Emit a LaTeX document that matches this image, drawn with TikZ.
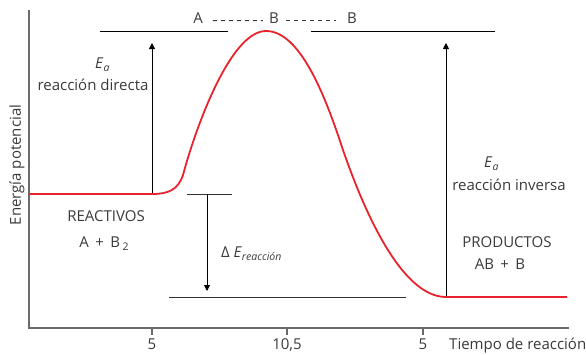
\documentclass[tikz,border=0pt]{standalone}
\usepackage{fontspec}
\setmainfont{Open Sans}
\usetikzlibrary{arrows.meta}

\definecolor{curvered}{HTML}{E8232B}
\definecolor{axisgray}{HTML}{6A6A6A}
\definecolor{textgray}{HTML}{3A3A3A}

\tikzset{
  lbl/.style={text=textgray, inner sep=0pt, font=\fontsize{15}{18}\selectfont},
  axisline/.style={axisgray, line width=1.8pt},
  level/.style={black, line width=1pt},
  dlevel/.style={black!80, line width=1pt},
  curve/.style={curvered, line width=1.8pt},
  eaarrow/.style={black, line width=0.9pt, -{Triangle[width=6pt,length=6pt]}},
  dashgray/.style={textgray, line width=1pt, dash pattern=on 4pt off 4pt}
}
\newcommand{\lowsub}[1]{\raisebox{-0.45ex}{\fontsize{10.5}{12}\selectfont #1}}

\begin{document}
\begin{tikzpicture}[x=1pt,y=-1pt]
\useasboundingbox (0,0) rectangle (586,354);

% Axes
\coordinate (origin) at (29,328);
\coordinate (ytop) at (29,10);
\coordinate (xend) at (569,328);
\draw[axisline] (ytop) -- (origin) -- (xend);
\foreach \x/\t in {152/5, 287/{10,5}, 423/5} {
  \draw[axisline] (\x,328) -- (\x,335);
  \node[lbl, anchor=base] (tick\x) at (\x,349) {\t};
}
\node[lbl, anchor=base west] (xlabel) at (449,349) {Tiempo de reacción};
\node[lbl, rotate=90] (ylabel) at (17,165) {Energía potencial};

% Energy levels
\coordinate (reacLevel) at (152,194);
\coordinate (prodLevel) at (446,297);
\draw[level] (100,31) -- (228,31);
\draw[level] (311,31) -- (495,31);

% Activation arrows
\coordinate (reacTop) at (152,43);
\coordinate (prodTop) at (446,43);
\draw[eaarrow] (reacLevel) -- (reacTop);
\draw[eaarrow] (prodLevel) -- (prodTop);

% Reaction energy
\coordinate (deltaTop) at (207,194);
\coordinate (deltaBot) at (207,291);
\draw[dlevel] (187,194) -- (232,194);
\draw[dlevel] (169,297) -- (406,297);
\draw[eaarrow] (deltaTop) -- (deltaBot);

% Reaction path
\draw[curve] (29,194) -- (reacLevel) .. controls (168,194) and (178,190) .. (183,175)
  .. controls (195,130) and (230,31) .. (266,31)
  .. controls (300,31) and (325,95) .. (343,150)
  .. controls (362,205) and (400,297) .. (prodLevel) -- (567,297);

% Transition state
\node[lbl, anchor=base] (labA) at (198,23) {A};
\node[lbl, anchor=base] (labB) at (274,23) {B};
\node[lbl, anchor=base] (labBB) at (352,23) {B};
\draw[dashgray] ([xshift=10pt,yshift=-3pt]labA.east) -- ([xshift=-6pt,yshift=-3pt]labB.west);
\draw[dashgray] ([xshift=7pt,yshift=-3pt]labB.east) -- ([xshift=-11pt,yshift=-3pt]labBB.west);

% Labels
\node[lbl, anchor=base west] (eaDirect) at (95,68) {\textit{E}\lowsub{\textit{a}}};
\node[lbl, anchor=base] (directa) at (93,90) {reacción directa};
\node[lbl, anchor=base west] (eaInverse) at (484,167) {\textit{E}\lowsub{\textit{a}}};
\node[lbl, anchor=base] (inversa) at (509,190) {reacción inversa};
\node[lbl, anchor=base] (reactivos) at (106,221) {REACTIVOS};
\node[lbl, anchor=base] (reacFormula) at (104,247) {A\, +\, B\,\lowsub{2}};
\node[lbl, anchor=base] (productos) at (507,247) {PRODUCTOS};
\node[lbl, anchor=base] (prodFormula) at (500,269) {AB\, +\, B};
\node[lbl, anchor=base west] (deltaE) at (221,257) {Δ \textit{E}\lowsub{\textit{reacción}}};
\end{tikzpicture}
\end{document}
